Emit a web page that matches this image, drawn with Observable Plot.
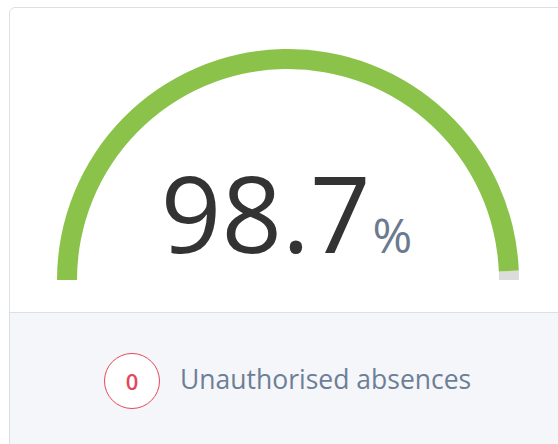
<!DOCTYPE html>
<html>
<head>
<meta charset="utf-8">
<script src="https://cdn.jsdelivr.net/npm/d3@7"></script>
<script src="https://cdn.jsdelivr.net/npm/@observablehq/plot@0.6"></script>
<style>
  html, body { margin: 0; padding: 0; background: #fff; width: 558px; height: 444px; overflow: hidden; font-family: "Open Sans", sans-serif; }
  #card { position: absolute; left: 9px; top: 7px; width: 640px; height: 520px; border: 1px solid #dbdfe7; border-radius: 6px; background: #fff; box-sizing: border-box; overflow: hidden; }
  #footer { position: absolute; left: 0; top: 304px; width: 100%; height: 300px; background: #f5f6fa; border-top: 1.5px solid #dbdfe7; }
  #chart { position: absolute; left: 0; top: 0; }
  #badge { position: absolute; left: 104px; top: 353px; width: 56px; height: 56px; box-sizing: border-box; border: 1.5px solid #e4475c; border-radius: 50%; background: #fff; color: #e4475c; font-size: 22px; font-weight: 600; display: flex; align-items: center; justify-content: center; line-height: 1; }
  #label { position: absolute; left: 180px; top: 361px; font-size: 26.5px; line-height: 1.362; color: #6d7f96; white-space: nowrap; }
</style>
</head>
<body>
<div id="card"><div id="footer"></div></div>
<div id="chart"></div>
<div id="badge"></div>
<div id="label"></div>
<script>
// ---- data ----
const gaugeValue = [98.7];
const gaugeMax = [100];
const unitLabel = ["%"];
const badgeCount = [0];
const badgeLabel = ["Unauthorised absences"];

const cx = 288, cy = 280, rOut = 231;
const innerRatio = 211 / 231;

function gaugeArc() {
  return (index, scales) => {
    const x = scales.x, y = scales.y;
    const cxp = x(0), cyp = y(0);
    const ro = x(1) - x(0), ri = x(innerRatio) - x(0);
    const angle = d3.scaleLinear().domain([0, gaugeMax[0]]).range([-Math.PI / 2, Math.PI / 2]);
    const arc = d3.arc().innerRadius(ri).outerRadius(ro);
    const g = d3.create("svg:g").attr("transform", `translate(${cxp},${cyp})`);
    g.append("path").attr("d", arc({startAngle: angle(gaugeValue[0]), endAngle: Math.PI / 2})).attr("fill", "#dcdcdc");
    g.append("path").attr("d", arc({startAngle: -Math.PI / 2, endAngle: angle(gaugeValue[0])})).attr("fill", "#8bc34a");
    return g.node();
  };
}

const plot = Plot.plot({
  width: 558,
  height: 312,
  margin: 0,
  x: {domain: [-1, 1], range: [cx - rOut, cx + rOut], axis: null},
  y: {domain: [0, 1], range: [cy, cy - rOut], axis: null},
  style: {background: "transparent", overflow: "visible", fontFamily: "Open Sans"},
  marks: [
    gaugeArc(),
    Plot.text(gaugeValue, {x: 0.355, y: 0.121, text: d => d.toFixed(1), textAnchor: "end", lineAnchor: "bottom", fontSize: 106, fill: "#333333"}),
    Plot.text(unitLabel, {x: 0.364, y: 0.121, text: d => d, textAnchor: "start", lineAnchor: "bottom", fontSize: 48, fill: "#6b7a8f"})
  ]
});
document.getElementById("chart").appendChild(plot);
document.getElementById("badge").textContent = String(badgeCount[0]);
document.getElementById("label").textContent = badgeLabel[0];
</script>
</body>
</html>
